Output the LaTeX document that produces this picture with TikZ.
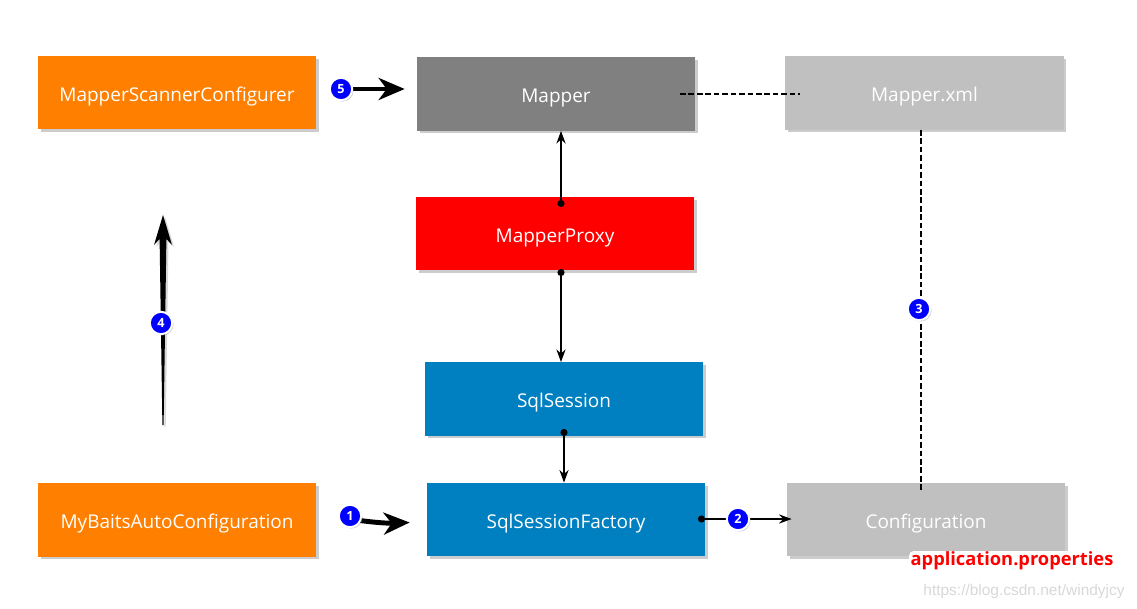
\documentclass[tikz,border=0pt]{standalone}
\usepackage{fontspec}
\setmainfont{Open Sans}
\newfontfamily\markfont{Liberation Sans}
\usetikzlibrary{arrows.meta, shadows, calc}
\definecolor{boxorange}{HTML}{FF8000}
\definecolor{boxgray}{HTML}{808080}
\definecolor{boxlight}{HTML}{C0C0C0}
\definecolor{boxred}{HTML}{FF0000}
\definecolor{boxblue}{HTML}{0080C0}
\definecolor{stepblue}{HTML}{0000FF}
\definecolor{markgray}{HTML}{D8D8D8}
\tikzset{
  javabox/.style={rectangle, minimum width=6.95cm, minimum height=1.83cm, inner sep=0pt,
    text=white, font=\fontsize{13.5}{15}\selectfont, text height=1.3em, text depth=0.05em,
    drop shadow={shadow xshift=2pt, shadow yshift=-2pt, opacity=0.4}},
  stepdot/.style={circle, fill=stepblue, draw=white, line width=1.4pt, text=white,
    font=\bfseries\small, inner sep=0pt, minimum size=0.56cm,
    drop shadow={shadow xshift=1pt, shadow yshift=-1pt, opacity=0.35}},
  thinarrow/.style={black, line width=1.2pt, {Circle[length=5pt]}-{Stealth[length=9pt, width=6.5pt]}},
  fatarrow/.style={black, line width=3.5pt, -{Stealth[length=0.65cm, width=0.55cm, inset=0.2cm]}},
  linkline/.style={black, line width=1.2pt, dash pattern=on 4pt off 2pt},
}

\begin{document}
\begin{tikzpicture}[x=0.025cm, y=-0.025cm]
    \useasboundingbox (0,0) rectangle (1137,609);
    \coordinate (box1) at (177,92.5);
    \coordinate (box2) at (556,94);
    \coordinate (box3) at (924.5,93);
    \coordinate (box4) at (555,233.5);
    \coordinate (box5) at (564,399);
    \coordinate (box6) at (566,519.5);
    \coordinate (box7) at (177,520);
    \coordinate (box8) at (926,519.5);
    %
    \node[javabox, fill=boxorange] at (box1) (nodeScanner) {MapperScannerConfigurer};
    \node[javabox, fill=boxgray] at (box2) (nodeMapper) {Mapper};
    \node[javabox, fill=boxlight] at (box3) (nodeXml) {Mapper.xml};
    \node[javabox, fill=boxred] at (box4) (nodeProxy) {MapperProxy};
    \node[javabox, fill=boxblue] at (box5) (nodeSession) {SqlSession};
    \node[javabox, fill=boxblue] at (box6) (nodeFactory) {SqlSessionFactory};
    \node[javabox, fill=boxorange] at (box7) (nodeAuto) {MyBaitsAutoConfiguration};
    \node[javabox, fill=boxlight] at (box8) (nodeConfig) {Configuration};
    %
    \coordinate (proxyTop) at (561,207);
    \coordinate (proxyBottom) at (561,269);
    \coordinate (sessionBottom) at (564,429);
    \coordinate (factoryRight) at (698,519);
    \coordinate (mapperRight) at (680,94);
    \coordinate (xmlLeft) at (800,94);
    \coordinate (xmlBottom) at (921,130);
    \coordinate (configTop) at (921,492);
    \coordinate (tail4) at (163,425);
    \coordinate (tip4) at (163,215);
    \coordinate (tail1) at (356,520);
    \coordinate (tail5) at (350,89);
    %
    \draw[thinarrow] (proxyTop) -- (proxyTop |- nodeMapper.south);
    \draw[thinarrow] (proxyBottom) -- (proxyBottom |- nodeSession.north);
    \draw[thinarrow] (sessionBottom) -- (sessionBottom |- nodeFactory.north);
    \draw[thinarrow] (factoryRight) -- ($(factoryRight -| nodeConfig.west)+(5,0)$);
    \draw[linkline] (mapperRight) -- (xmlLeft);
    \draw[linkline] (xmlBottom) -- (configTop);
    %
    \fill[black, drop shadow={shadow xshift=1.5pt, shadow yshift=-1.5pt, opacity=0.3}]
        ($(tail4)+(-0.6,0)$) -- ($(tip4)+(-3.4,24)$) -- ($(tip4)+(-9,30)$) -- (tip4)
        -- ($(tip4)+(9,30)$) -- ($(tip4)+(3.4,24)$) -- ($(tail4)+(0.6,0)$) -- cycle;
    %
    \draw[fatarrow] (tail5) -- ([xshift=-12*0.025cm]tail5 -| nodeMapper.west);
    \draw[fatarrow] (tail1) to[bend right=5] ([xshift=-17*0.025cm, yshift=-3*0.025cm]nodeFactory.west);
    %
    \node[stepdot] at (341,89) (step5) {5};
    \node[stepdot] at (161,323) (step4) {4};
    \node[stepdot] at (350,516) (step1) {1};
    \node[stepdot] at (738,519) (step2) {2};
    \node[stepdot] at (919,309) (step3) {3};
    %
    \node[font=\fontsize{13}{15}\selectfont\bfseries, text=boxred, fill=white,
        rounded corners=3pt, inner sep=1pt, text height=0.95em, text depth=0.25em]
        at (1012,561) (propsText) {application.properties};
    \node[font=\markfont\fontsize{11}{13}\selectfont, text=markgray] at (1024,591) (markText)
        {https://blog.csdn.net/windyjcy};
\end{tikzpicture}
\end{document}
